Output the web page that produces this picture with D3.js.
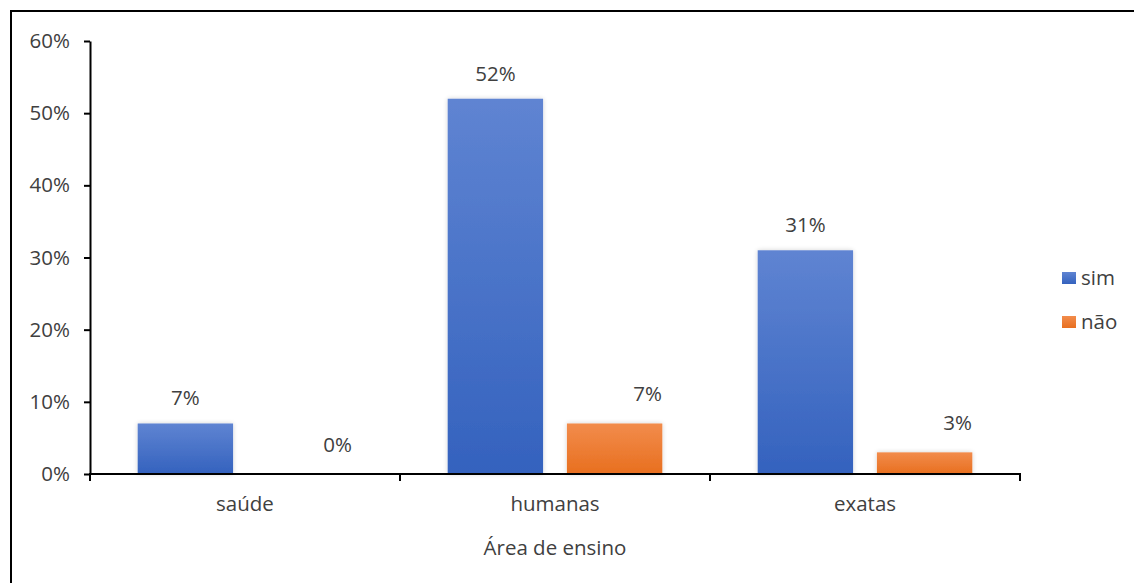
<!DOCTYPE html>
<html>
<head>
<meta charset="utf-8">
<script src="https://cdn.jsdelivr.net/npm/d3@7"></script>
<style>
  html, body { margin: 0; padding: 0; background: #fff; overflow: hidden; }
  svg { display: block; font-family: "Open Sans", "Noto Sans", sans-serif; }
</style>
</head>
<body>
<svg id="chart" width="1134" height="583"></svg>
<script>
// Data
const categories = ["saúde", "humanas", "exatas"];
const seriesNames = ["sim", "não"];
const simValues = [0.07, 0.52, 0.31];
const naoValues = [0.00, 0.07, 0.03];
const yTicks = [0, 0.1, 0.2, 0.3, 0.4, 0.5, 0.6];
const xTitle = "Área de ensino";

const colors = { "sim": ["#5f84d2", "#3462be"], "não": ["#f28c4c", "#e86f1f"] };
// label placement per series (horizontal shift, gap above bar)
const labelShift = { "sim": [0, 18], "não": [33, 22] };
const textColor = "#404040";
const fs = 20.5;

const svg = d3.select("#chart");
const defs = svg.append("defs");

seriesNames.forEach((s, i) => {
  const g = defs.append("linearGradient").attr("id", "grad" + i)
    .attr("x1", 0).attr("y1", 0).attr("x2", 0).attr("y2", 1);
  g.append("stop").attr("offset", "0%").attr("stop-color", colors[s][0]);
  g.append("stop").attr("offset", "100%").attr("stop-color", colors[s][1]);
});

const shadow = defs.append("filter").attr("id", "soft")
  .attr("x", "-20%").attr("y", "-20%").attr("width", "140%").attr("height", "140%");
shadow.append("feGaussianBlur").attr("in", "SourceAlpha").attr("stdDeviation", 2.5).attr("result", "b");
shadow.append("feComponentTransfer").attr("in", "b").attr("result", "bs")
  .append("feFuncA").attr("type", "linear").attr("slope", 0.18);
const merge = shadow.append("feMerge");
merge.append("feMergeNode").attr("in", "bs");
merge.append("feMergeNode").attr("in", "SourceGraphic");

// Outer frame (open on the right and bottom edges of the view)
svg.append("rect")
  .attr("x", 11).attr("y", 11).attr("width", 1300).attr("height", 800)
  .attr("fill", "none").attr("stroke", "#000").attr("stroke-width", 2);

const plot = { left: 90, right: 1020, top: 41, bottom: 474 };

const x0 = d3.scaleBand().domain(categories).range([plot.left, plot.right])
  .paddingInner(0).paddingOuter(0);
const x1 = d3.scaleBand().domain(seriesNames).range([0, x0.bandwidth()])
  .paddingInner(0.2).paddingOuter(0.4);
const y = d3.scaleLinear().domain([0, 0.6]).range([plot.bottom, plot.top]);

const data = categories.map((c, i) => ({
  cat: c,
  vals: [{ s: "sim", v: simValues[i], k: 0 }, { s: "não", v: naoValues[i], k: 1 }]
}));

// Bars
const groups = svg.append("g").selectAll("g").data(data).join("g")
  .attr("transform", d => `translate(${x0(d.cat)},0)`);

groups.selectAll("rect").data(d => d.vals).join("rect")
  .attr("x", d => x1(d.s))
  .attr("y", d => y(d.v))
  .attr("width", x1.bandwidth())
  .attr("height", d => y(0) - y(d.v))
  .attr("fill", d => `url(#grad${d.k})`)
  .attr("filter", "url(#soft)");

// Value labels
groups.selectAll("text").data(d => d.vals).join("text")
  .attr("x", d => x1(d.s) + x1.bandwidth() / 2 + labelShift[d.s][0])
  .attr("y", d => y(d.v) - labelShift[d.s][1])
  .attr("text-anchor", "middle")
  .attr("font-size", fs)
  .attr("fill", textColor)
  .text(d => d3.format(".0%")(d.v));

// Y axis
const yAxis = svg.append("g").attr("transform", `translate(${plot.left},0)`)
  .call(d3.axisLeft(y).tickValues(yTicks).tickFormat(d3.format(".0%")).tickSize(6).tickSizeOuter(0));
yAxis.select(".domain").attr("stroke", "#000").attr("stroke-width", 2);
yAxis.selectAll(".tick line").attr("stroke", "#000").attr("stroke-width", 2);
yAxis.selectAll(".tick text").attr("font-size", fs).attr("fill", textColor)
  .attr("font-family", "\"Open Sans\", sans-serif").attr("x", -20);

// X axis with ticks at the category boundaries
const xAxis = svg.append("g").attr("transform", `translate(0,${plot.bottom})`);
xAxis.append("line").attr("x1", plot.left - 1).attr("x2", plot.right + 1)
  .attr("stroke", "#000").attr("stroke-width", 2);
const bounds = categories.map(c => x0(c)).concat([x0(categories[categories.length - 1]) + x0.bandwidth()]);
xAxis.selectAll("line.tk").data(bounds).join("line").attr("class", "tk")
  .attr("x1", d => d).attr("x2", d => d).attr("y1", 0).attr("y2", 7)
  .attr("stroke", "#000").attr("stroke-width", 2);
xAxis.selectAll("text").data(categories).join("text")
  .attr("x", d => x0(d) + x0.bandwidth() / 2)
  .attr("y", 37)
  .attr("text-anchor", "middle")
  .attr("font-size", fs)
  .attr("fill", textColor)
  .text(d => d);

// Axis title
svg.append("text")
  .attr("x", (plot.left + plot.right) / 2)
  .attr("y", 555)
  .attr("text-anchor", "middle")
  .attr("font-size", fs)
  .attr("fill", textColor)
  .text(xTitle);

// Legend
const legend = svg.append("g").attr("transform", "translate(1062,272)");
const li = legend.selectAll("g").data(seriesNames).join("g")
  .attr("transform", (d, i) => `translate(0,${i * 44})`);
li.append("rect").attr("width", 14).attr("height", 12)
  .attr("fill", (d, i) => `url(#grad${i})`);
li.append("text").attr("x", 19).attr("y", 13).attr("font-size", fs)
  .attr("fill", textColor).text(d => d);
</script>
</body>
</html>
